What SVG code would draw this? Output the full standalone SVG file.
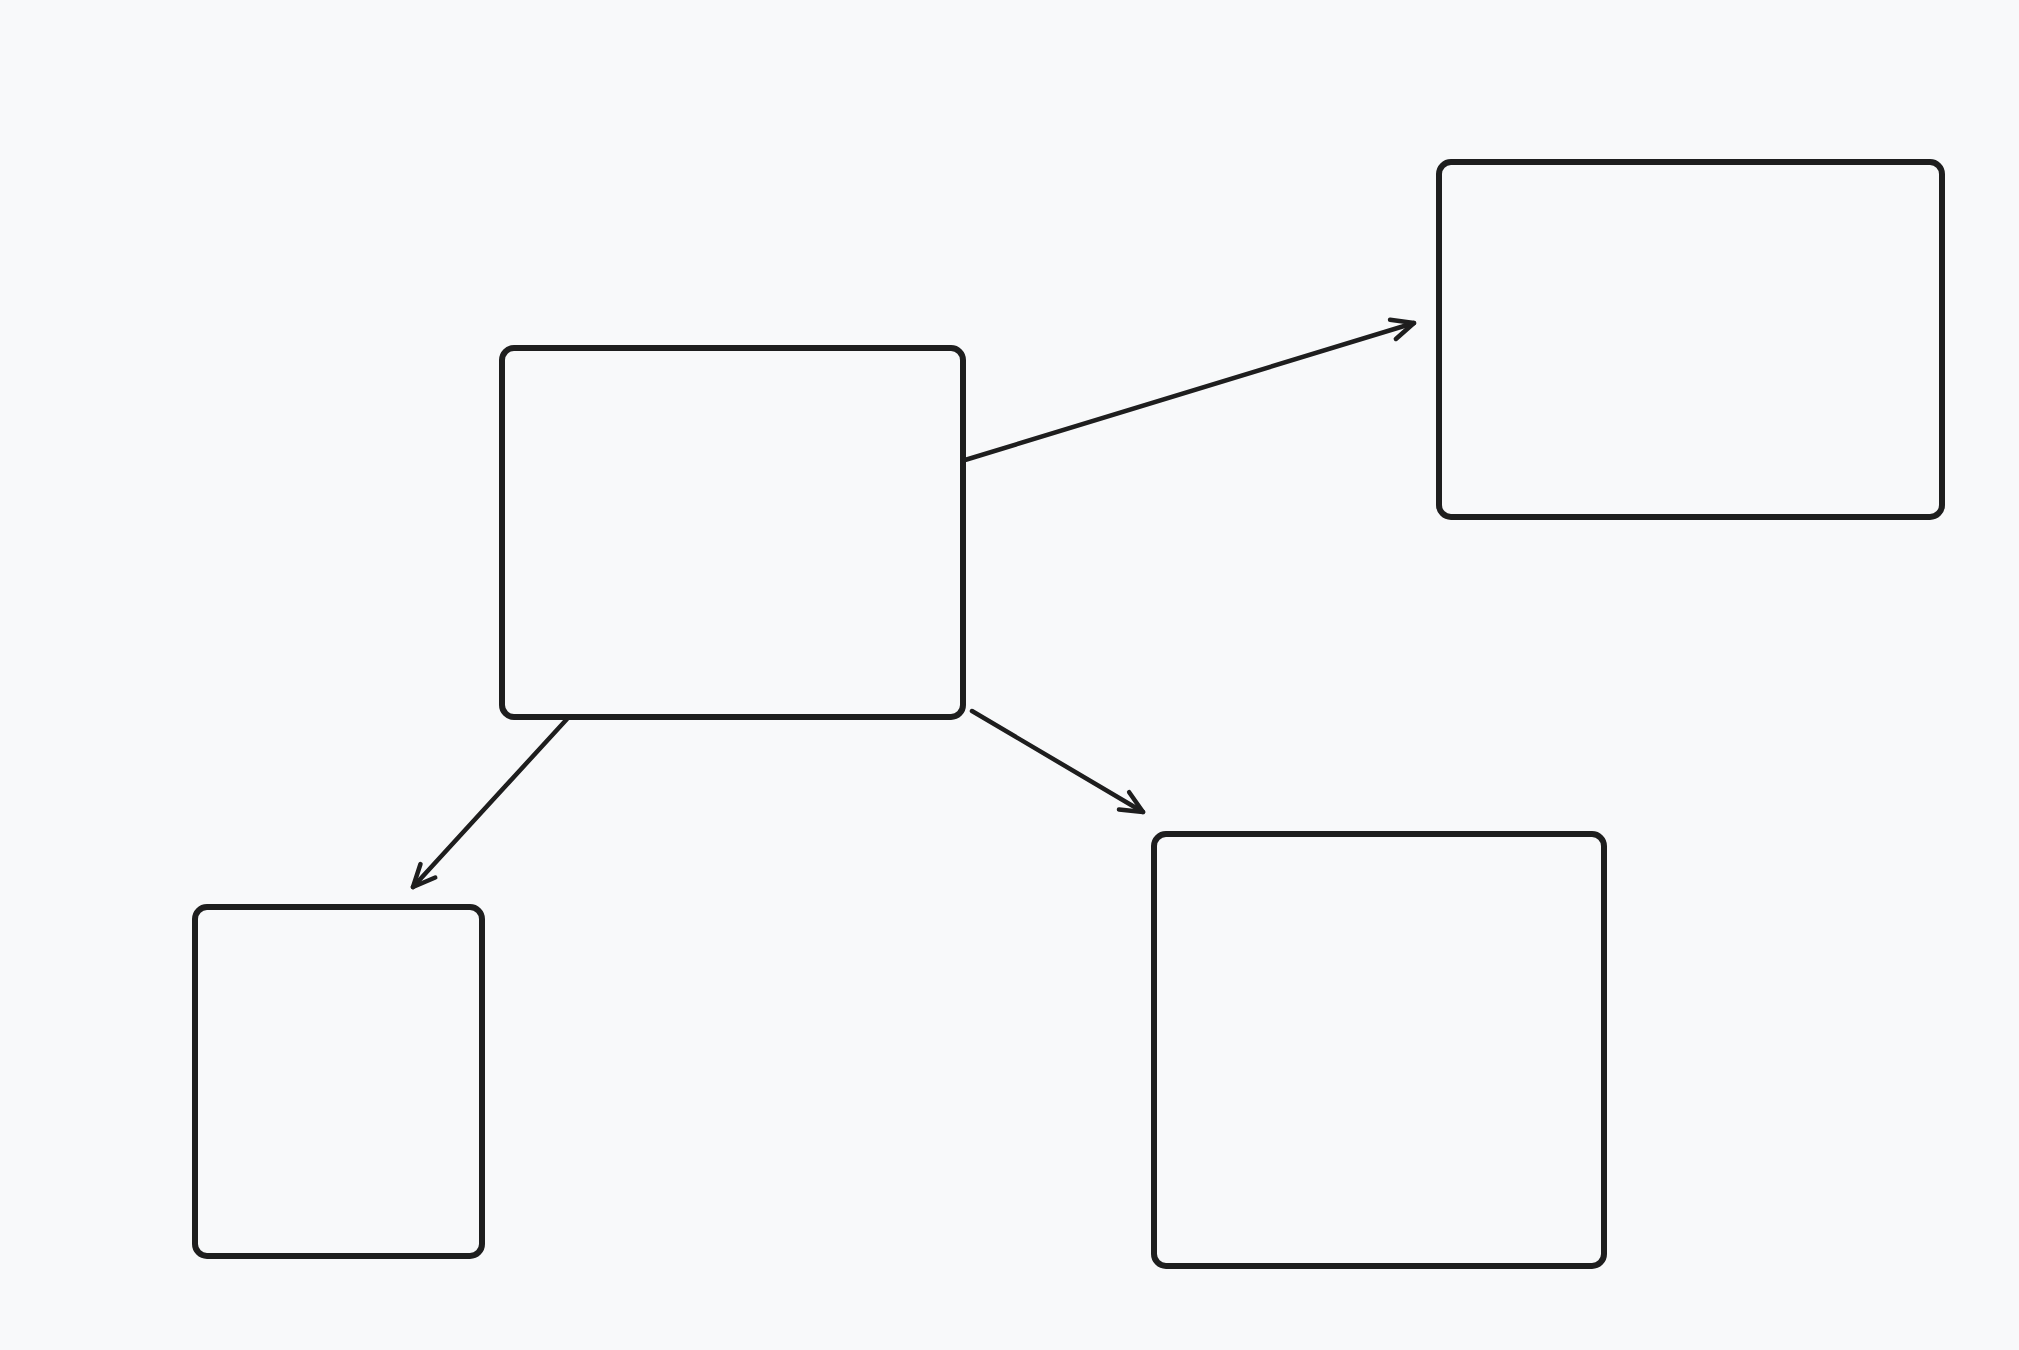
<svg xmlns="http://www.w3.org/2000/svg" width="2019" height="1350" viewBox="0 0 2019 1350">
  <style>
    .box { fill: #f8f9fa; stroke: #1e1e1e; stroke-width: 6; }
    .conn { fill: none; stroke: #1e1e1e; stroke-width: 4.5; stroke-linecap: round; stroke-linejoin: round; }
  </style>
  <defs>
    <marker id="arrow" markerUnits="userSpaceOnUse" viewBox="-28 -16 32 32" refX="0" refY="0" markerWidth="32" markerHeight="32" orient="auto">
      <path d="M -22 -10 L 0 0 L -22 10" fill="none" stroke="#1e1e1e" stroke-width="4.5" stroke-linecap="round" stroke-linejoin="round"/>
    </marker>
  </defs>
  <rect width="2019" height="1350" fill="#f8f9fa"/>
  <g id="node-center">
    <rect class="box" x="502" y="348" width="461" height="369" rx="12"/>
  </g>
  <g id="node-top-right">
    <rect class="box" x="1439" y="162" width="503" height="355" rx="12"/>
  </g>
  <g id="node-bottom-left">
    <rect class="box" x="195" y="907" width="287" height="349" rx="12"/>
  </g>
  <g id="node-bottom-right">
    <rect class="box" x="1154" y="834" width="450" height="432" rx="12"/>
  </g>
  <g id="connectors">
    <path class="conn" d="M 965 460 L 1414 323" marker-end="url(#arrow)"/>
    <path class="conn" d="M 567 719 L 413 887" marker-end="url(#arrow)"/>
    <path class="conn" d="M 972 711 L 1143 812" marker-end="url(#arrow)"/>
  </g>
</svg>
